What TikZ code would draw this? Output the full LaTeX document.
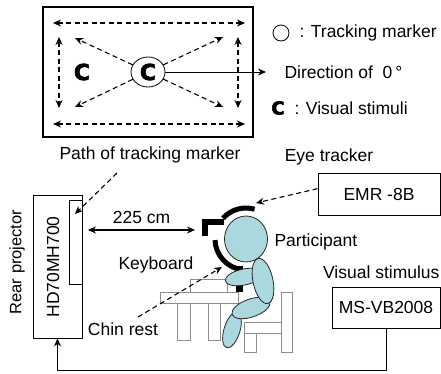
\documentclass[tikz,border=0pt]{standalone}
\usepackage{fontspec}
\setmainfont{Liberation Sans}
\newfontfamily\heavyfont[FakeBold=3]{DejaVu Sans Bold}
\usetikzlibrary{arrows.meta,shapes.geometric,calc}
\definecolor{skin}{RGB}{170,216,222}

\begin{document}
\begin{tikzpicture}[x=1pt, y=-1pt, >={Stealth[length=8pt,width=7pt]}, font=\fontsize{17.5}{20}\selectfont]
\tikzset{pbox/.style={draw, line width=0.9pt, rectangle, inner sep=0, fill=white},
  dasharrow/.style={line width=1.1pt, dash pattern=on 5pt off 3.5pt, ->},
  stimc/.style={inner sep=0, font=\heavyfont\fontsize{22}{22}\selectfont},
  furniture/.style={draw=black!45, fill=white, line width=0.8pt},
  limb/.style={draw=black!85, fill=skin, line width=0.8pt, ellipse, inner sep=0},
  holder/.style={line width=5pt, black}}
\useasboundingbox (0,0) rectangle (441,373);

%% screen with marker paths
\node[pbox, line width=1.2pt, minimum width=210pt, minimum height=130pt] (screen) at (148,72) {};
\node[stimc, draw, ellipse, line width=0.8pt, minimum width=34pt, minimum height=30pt] (marker) at (148,72) {C};
\node[stimc] (stimleft) at (82,72) {C};
\coordinate (htl) at (53,23);  \coordinate (htr) at (245,23);
\coordinate (hbl) at (53,124); \coordinate (hbr) at (245,124);
\coordinate (vtl) at (59,37);  \coordinate (vbl) at (59,108);
\coordinate (vtr) at (238,37); \coordinate (vbr) at (238,108);
\coordinate (dtl) at (75,38);  \coordinate (dbl) at (75,107);
\coordinate (dtr) at (223,37); \coordinate (dbr) at (223,107);
\coordinate (dirtip) at (266,72);
% paths
\draw[dasharrow,<->] (htl) -- (htr);
\draw[dasharrow,<->] (hbl) -- (hbr);
\draw[dasharrow,<->] (vtl) -- (vbl);
\draw[dasharrow,<->] (vtr) -- (vbr);
\foreach \c in {dtl,dbl,dtr,dbr}
  \draw[dasharrow] (marker) -- (\c);
\draw[line width=0.9pt,->] (marker) -- (dirtip);

%% legend
\node[draw, circle, line width=0.8pt, minimum size=16pt, inner sep=0] (legmarker) at (281,33) {};
\node[anchor=west] (legmarkerlab) at (296,33) {: Tracking marker};
\node[anchor=west] (dirlab) at (281,72) {Direction of\ \ 0\,°};
\node[stimc, font=\heavyfont\fontsize{18}{18}\selectfont] (legstim) at (278,108) {C};
\node[anchor=west] (legstimlab) at (291,108) {: Visual stimuli};

\node (pathlab) at (150,155) {Path of tracking marker};
\node (eyelab) at (329,157) {Eye tracker};

%% rear projector
\node[pbox, minimum width=49pt, minimum height=143pt] (projector) at (57.5,266.5) {};
\node[pbox, minimum width=13pt, minimum height=84pt] (rearscreen) at (75.5,242) {};
\node[rotate=90] (projlab) at (53,267) {HD70MH700};
\node[rotate=90, font=\fontsize{16.5}{20}\selectfont] (rearlab) at (17,262) {Rear projector};
\coordinate (pathtail) at (117,173); \coordinate (pathtip) at (75,214);
\draw[dasharrow] (pathtail) -- (pathtip);
\coordinate (distl) at (88,230); \coordinate (distr) at (195,230);
\draw[line width=1.1pt,<->] (distl) -- node[above=6pt, inner sep=0] (distlab) {225 cm} (distr);

%% desk and chair
\draw[furniture] (177,300) rectangle (190,340);
\draw[furniture] (208,300) rectangle (220,340);
\draw[furniture] (160,292) rectangle (238,303);
\draw[furniture] (190,279) rectangle (227,292);
\draw[furniture] (281,292) rectangle (292,352);
\draw[furniture] (244,322) rectangle (281,333);
\draw[furniture] (244,333) rectangle (256,352);

%% participant with head and chin rest
\coordinate (headc) at (246,239);
\draw[holder] ($(headc)+(74:31pt)$) arc[start angle=74, end angle=138, radius=31pt];
\draw[holder] ($(headc)+(182:31pt)$) arc[start angle=182, end angle=262, radius=31pt];
\draw[holder, line width=5.5pt] (224,222) -- (205,222) -- (205,236);
\draw[holder, line width=7pt] (239,266) -- (239,292);
\node[limb, minimum width=43pt, minimum height=46pt] (head) at (headc) {};
\node[limb, minimum width=16pt, minimum height=37pt, rotate=-17] (shin) at (232,330) {};
\node[limb, minimum width=40pt, minimum height=18pt, rotate=19] (thigh) at (251,308) {};
\node[limb, minimum width=38pt, minimum height=16pt, rotate=12] (arm) at (244,277) {};
\node[limb, minimum width=20pt, minimum height=46pt, rotate=12] (torso) at (263,281) {};

\node (keylab) at (156,265) {Keyboard};
\node (chinlab) at (123,329) {Chin rest};
\coordinate (chintail) at (138,317); \coordinate (chintip) at (222,267);
\draw[dasharrow] (chintail) -- (chintip);
\node[anchor=west] (partlab) at (271,242) {Participant};

%% eye tracker and stimulus pc
\node[pbox, minimum width=122pt, minimum height=42pt] (emr) at (379,194) {EMR -8B};
\coordinate (eyetip) at (256,203);
\draw[dasharrow] (emr.175) -- (eyetip);
\node[anchor=east] (vislab) at (443,272) {Visual stimulus};
\node[pbox, minimum width=108pt, minimum height=41pt] (vstim) at (386,307.5) {MS-VB2008};
\draw[line width=0.9pt,->] (vstim.south) -- ++(0,42) -| (projector.south);
\end{tikzpicture}
\end{document}
